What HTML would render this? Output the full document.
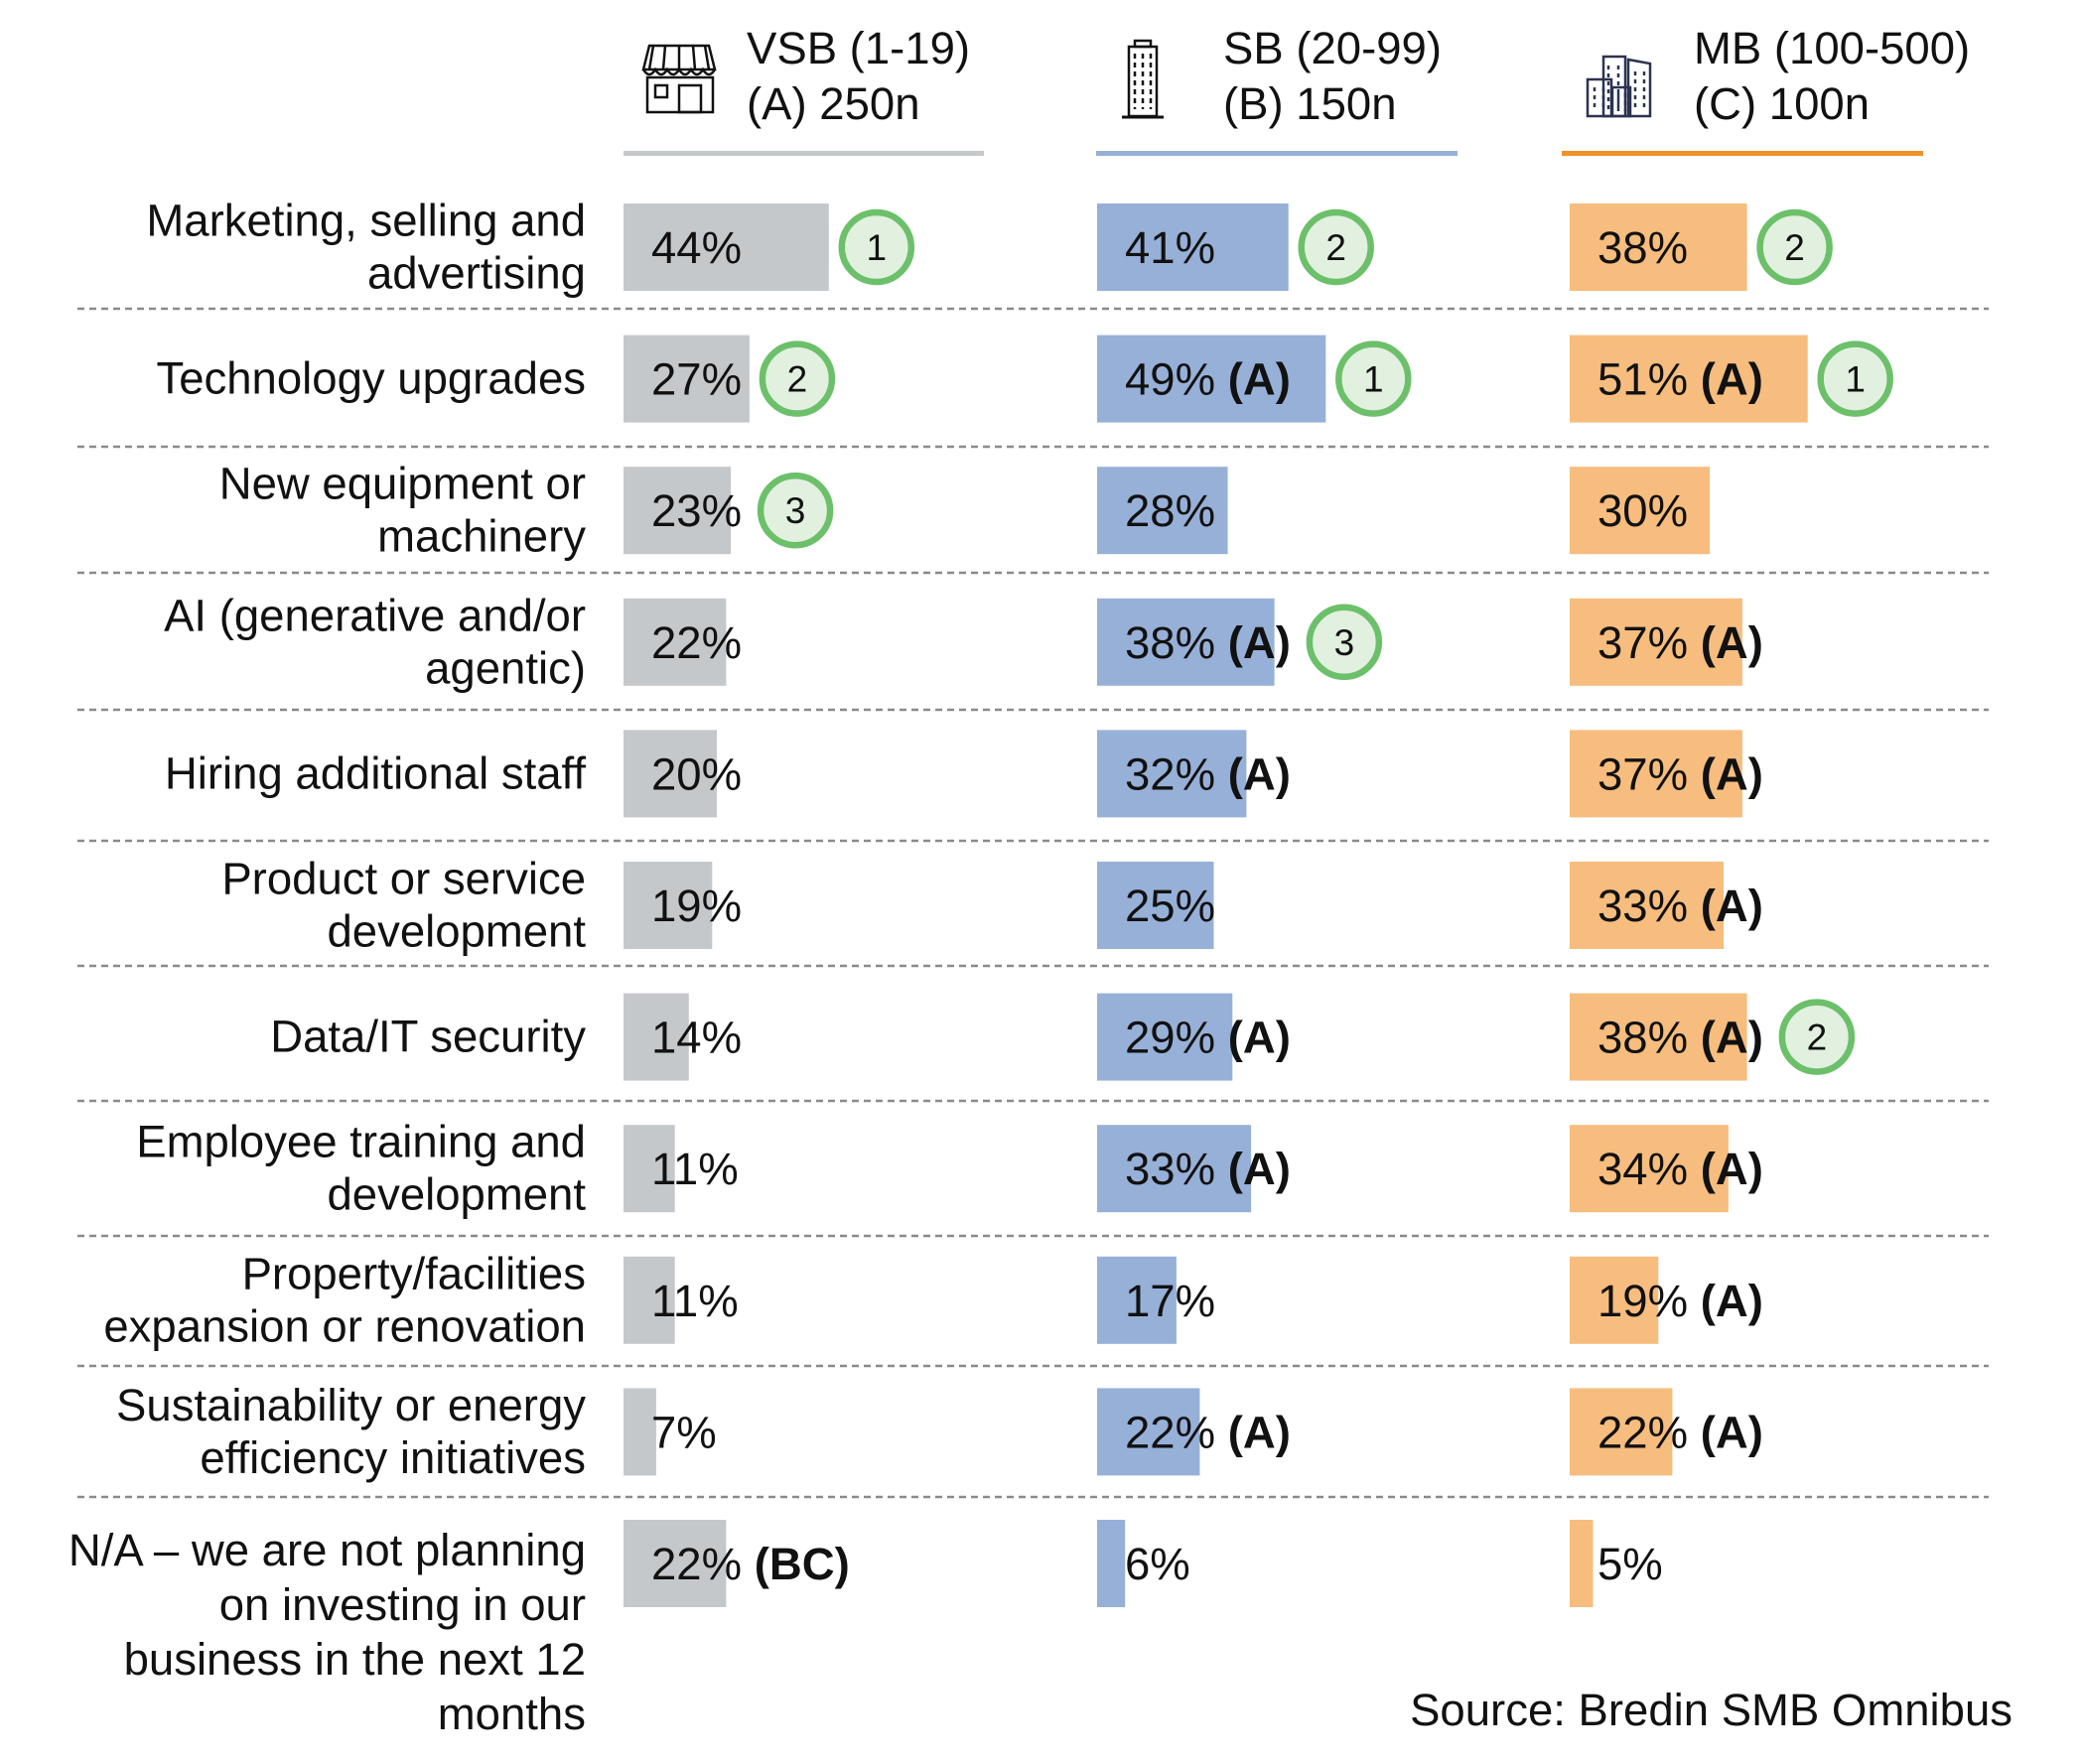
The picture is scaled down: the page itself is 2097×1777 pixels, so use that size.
<!DOCTYPE html>
<html><head><meta charset="utf-8"><style>
html,body{margin:0;padding:0;background:#fff;}
svg{display:block;font-family:"Liberation Sans",Arial,sans-serif;}
</style></head><body>
<svg id="chart" width="2097" height="1777" viewBox="0 0 2097 1777" xmlns="http://www.w3.org/2000/svg">
<g id="headers">
  <g>
    <g fill="none" stroke="#111" stroke-width="2.5">
      <path d="M654 46 L714 46 L720 70 L648 70 Z"/>
      <path d="M658 46 L654 70 M670 46 L668 70 M684 46 L684 70 M698 46 L700 70 M710 46 L714 70"/>
      <path d="M648 70 q6 10 12 0 q6 10 12 0 q6 10 12 0 q6 10 12 0 q6 10 12 0 q6 10 12 0"/>
      <rect x="652" y="78" width="66" height="35"/>
      <rect x="660" y="86" width="12" height="12"/>
      <rect x="684" y="86" width="22" height="27"/>
    </g>
    <text x="752" y="64" font-size="45.5" fill="#111">VSB (1-19)</text>
    <text x="752" y="120" font-size="45.5" fill="#111">(A) 250n</text>
    <rect x="628" y="152" width="363" height="5" fill="#c5c8cb"/>
  </g>
  <g>
    <g fill="none" stroke="#111" stroke-width="2.5">
      <rect x="1143" y="41" width="16" height="6"/>
      <rect x="1137" y="47" width="28" height="70"/>
      <path d="M1130 118 L1172 118" stroke-width="3"/>
      <path d="M1143 54 v56 M1151 54 v56 M1159 54 v56" stroke-dasharray="5 4"/>
    </g>
    <text x="1232" y="64" font-size="45.5" fill="#111">SB (20-99)</text>
    <text x="1232" y="120" font-size="45.5" fill="#111">(B) 150n</text>
    <rect x="1104" y="152" width="364" height="5" fill="#97b0d8"/>
  </g>
  <g>
    <g fill="none" stroke="#2b3350" stroke-width="2.5">
      <rect x="1615" y="57" width="22" height="60"/>
      <path d="M1640 60 L1662 64 L1662 117 L1640 117 Z"/>
      <rect x="1599" y="80" width="24" height="37"/>
      <rect x="1624" y="88" width="18" height="29"/>
      <path d="M1620 66 v44 M1630 66 v44 M1647 72 v40 M1656 72 v40 M1606 88 v24 M1615 88 v24 M1630 94 v18 M1637 94 v18" stroke-dasharray="4 4"/>
    </g>
    <text x="1706" y="64" font-size="45.5" fill="#111">MB (100-500)</text>
    <text x="1706" y="120" font-size="45.5" fill="#111">(C) 100n</text>
    <rect x="1573" y="152" width="364" height="5" fill="#f0922a"/>
  </g>
</g>
<g id="rows"></g>
<text x="2027" y="1738" font-size="45.5" text-anchor="end" fill="#111">Source: Bredin SMB Omnibus</text>
</svg>
<script>
const categories = [
  ["Marketing, selling and","advertising"],
  ["Technology upgrades"],
  ["New equipment or","machinery"],
  ["AI (generative and/or","agentic)"],
  ["Hiring additional staff"],
  ["Product or service","development"],
  ["Data/IT security"],
  ["Employee training and","development"],
  ["Property/facilities","expansion or renovation"],
  ["Sustainability or energy","efficiency initiatives"],
  ["N/A \u2013 we are not planning","on investing in our","business in the next 12","months"]
];
const vsbValues = [44,27,23,22,20,19,14,11,11,7,22];
const sbValues = [41,49,28,38,32,25,29,33,17,22,6];
const mbValues = [38,51,30,37,37,33,38,34,19,22,5];
const vsbSig = ["","","","","","","","","","","(BC)"];
const sbSig = ["","(A)","","(A)","(A)","","(A)","(A)","","(A)",""];
const mbSig = ["","(A)","","(A)","(A)","(A)","(A)","(A)","(A)","(A)",""];
const vsbRank = [1,2,3,0,0,0,0,0,0,0,0];
const sbRank = [2,1,0,3,0,0,0,0,0,0,0];
const mbRank = [2,1,0,0,0,0,2,0,0,0,0];

const NS = "http://www.w3.org/2000/svg";
const rowsG = document.getElementById('rows');
const PX_PER_PCT = 4.7;
const BAR_H = 88;
const FS = 45.5;
function xScale(v){ return v * PX_PER_PCT; }
function rowTop(i){ return 205 + i * 132.6; }
const dashYs = [311,450,577,715,847,973,1109,1245,1376,1508];

const series = [
  {key:'vsb', left:628, color:'#c5c8cb', vals:vsbValues, sig:vsbSig, rank:vsbRank},
  {key:'sb', left:1105, color:'#97b0d8', vals:sbValues, sig:sbSig, rank:sbRank},
  {key:'mb', left:1581, color:'#f6bd7e', vals:mbValues, sig:mbSig, rank:mbRank}
];
function mk(tag, attrs){ const e=document.createElementNS(NS,tag); for(const k in attrs) e.setAttribute(k,attrs[k]); return e; }

dashYs.forEach((y,i)=>{
  const l = mk('line',{x1:78,x2:2003,y1:y,y2:y,stroke:'#8a8a8a','stroke-width':2.5,'stroke-dasharray':'7 5'});
  
  
  rowsG.appendChild(l);
});

categories.forEach((lines,i)=>{
  const top = rowTop(i);
  const cy = top + BAR_H/2;
  const t = mk('text',{x:590,'font-size':FS,'text-anchor':'end',fill:'#111'});
  
  
  const lh = 53;
  let firstY;
  if (lines.length > 2) firstY = cy + 2; else firstY = cy + 15 - (lines.length-1)*lh/2;
  lines.forEach((s,j)=>{
    const ts = mk('tspan',{x:590,y:firstY + j*(lines.length>2?55:lh)});
    ts.textContent = s;
    t.appendChild(ts);
  });
  rowsG.appendChild(t);

  series.forEach(sr=>{
    const w = xScale(sr.vals[i]);
    const r = mk('rect',{x:sr.left,y:top,width:w,height:BAR_H,fill:sr.color});
    
    
    rowsG.appendChild(r);
    const tx = sr.left + 28;
    const vt = mk('text',{x:tx,y:cy+16,'font-size':FS,fill:'#111'});
    
    
    vt.textContent = sr.vals[i] + '%';
    if (sr.sig[i]) {
      const b = mk('tspan',{'font-weight':'bold'});
      b.textContent = ' ' + sr.sig[i];
      vt.appendChild(b);
    }
    rowsG.appendChild(vt);
    if (sr.rank[i]) {
      let textEnd = tx;
      try { textEnd = tx + vt.getComputedTextLength(); } catch(e){}
      const base = Math.max(sr.left + w, textEnd + 6);
      const cx = base + 48;
      const c = mk('circle',{cx:cx,cy:cy,r:35,fill:'#e2f0df',stroke:'#6cc06a','stroke-width':6.5});
      
      
      rowsG.appendChild(c);
      const ct = mk('text',{x:cx,y:cy+13,'font-size':37,'text-anchor':'middle',fill:'#111'});
      
      
      ct.textContent = sr.rank[i];
      rowsG.appendChild(ct);
    }
  });
});
</script>
</body></html>
